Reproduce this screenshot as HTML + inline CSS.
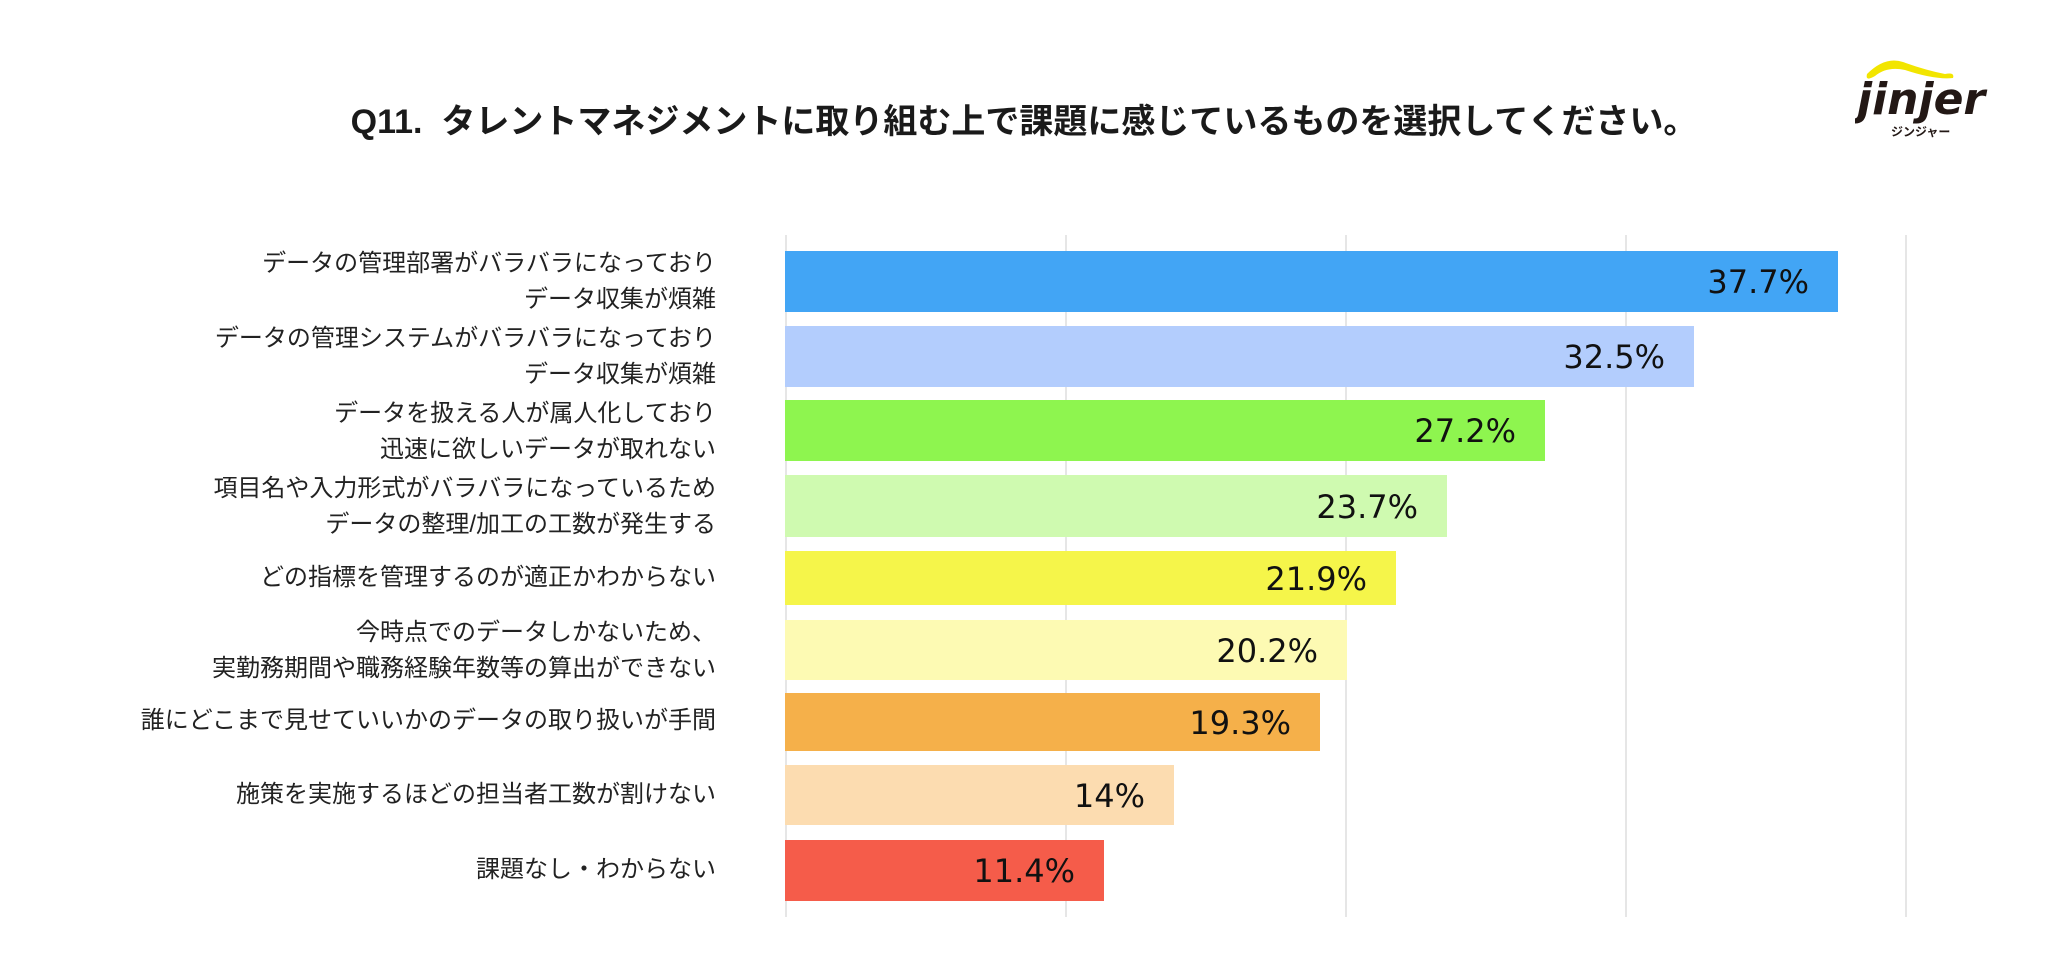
<!DOCTYPE html>
<html><head><meta charset="utf-8"><style>
body{margin:0;width:2048px;height:980px;background:#fff;position:relative;overflow:hidden;font-family:"Liberation Sans","Noto Sans CJK JP",sans-serif;color:#222}
.t{position:absolute;left:0;width:2048px;top:94px;text-align:center;font-weight:bold;font-size:34px;color:#1a1a1a;padding-left:0px;box-sizing:border-box}
.g{position:absolute;top:235px;height:682px;width:2px;background:#e6e6e6}
.b{position:absolute;left:785px}
.v{position:absolute;font-family:"DejaVu Sans",sans-serif;font-size:32px;color:#111;text-align:right;width:200px}
.l{position:absolute;right:1332px;text-align:right;font-size:24px;line-height:36px;white-space:nowrap;color:#222}
</style></head><body>
<div class="t">Q11.&nbsp; タレントマネジメントに取り組む上で課題に感じているものを選択してください。</div>
<svg style="position:absolute;left:1855px;top:52px" width="140" height="95" viewBox="0 0 140 95">
<path d="M12 22 Q30 4 48 10 Q70 18 90 22 Q100 20 98 26 Q80 28 50 18 Q32 14 20 24 Q10 30 12 22Z" fill="#f2e500"/>
<text x="2" y="62" font-family="DejaVu Sans" font-weight="bold" font-style="italic" font-size="44" fill="#231815">jinjer</text>
<text x="36" y="84" font-family="Noto Sans CJK JP" font-weight="bold" font-size="12" fill="#231815">ジンジャー</text>
</svg>
<div class="g" style="left:785px"></div><div class="g" style="left:1065px"></div><div class="g" style="left:1345px"></div><div class="g" style="left:1625px"></div><div class="g" style="left:1905px"></div>

<div class="b" style="top:251px;height:61px;width:1053px;background:#42a5f5"></div>
<div class="b" style="top:326px;height:61px;width:909px;background:#b3cdfd"></div>
<div class="b" style="top:400px;height:61px;width:760px;background:#8ef54f"></div>
<div class="b" style="top:475px;height:62px;width:662px;background:#cffab0"></div>
<div class="b" style="top:551px;height:54px;width:611px;background:#f5f54a"></div>
<div class="b" style="top:620px;height:60px;width:562px;background:#fdfab3"></div>
<div class="b" style="top:693px;height:58px;width:535px;background:#f5b04a"></div>
<div class="b" style="top:765px;height:60px;width:389px;background:#fcdcb0"></div>
<div class="b" style="top:840px;height:61px;width:319px;background:#f55c4a"></div>

<div class="v" style="left:1609px;top:263px">37.7%</div>
<div class="v" style="left:1465px;top:338px">32.5%</div>
<div class="v" style="left:1316px;top:412px">27.2%</div>
<div class="v" style="left:1218px;top:488px">23.7%</div>
<div class="v" style="left:1167px;top:560px">21.9%</div>
<div class="v" style="left:1118px;top:632px">20.2%</div>
<div class="v" style="left:1091px;top:704px">19.3%</div>
<div class="v" style="left:945px;top:777px">14%</div>
<div class="v" style="left:875px;top:852px">11.4%</div>

<div class="l" style="top:246px">データの管理部署がバラバラになっており<br>データ収集が煩雑</div>
<div class="l" style="top:321px">データの管理システムがバラバラになっており<br>データ収集が煩雑</div>
<div class="l" style="top:396px">データを扱える人が属人化しており<br>迅速に欲しいデータが取れない</div>
<div class="l" style="top:471px">項目名や入力形式がバラバラになっているため<br>データの整理/加工の工数が発生する</div>
<div class="l" style="top:560px">どの指標を管理するのが適正かわからない</div>
<div class="l" style="top:615px">今時点でのデータしかないため、<br>実勤務期間や職務経験年数等の算出ができない</div>
<div class="l" style="top:703px">誰にどこまで見せていいかのデータの取り扱いが手間</div>
<div class="l" style="top:777px">施策を実施するほどの担当者工数が割けない</div>
<div class="l" style="top:852px">課題なし・わからない</div>
</body></html>
